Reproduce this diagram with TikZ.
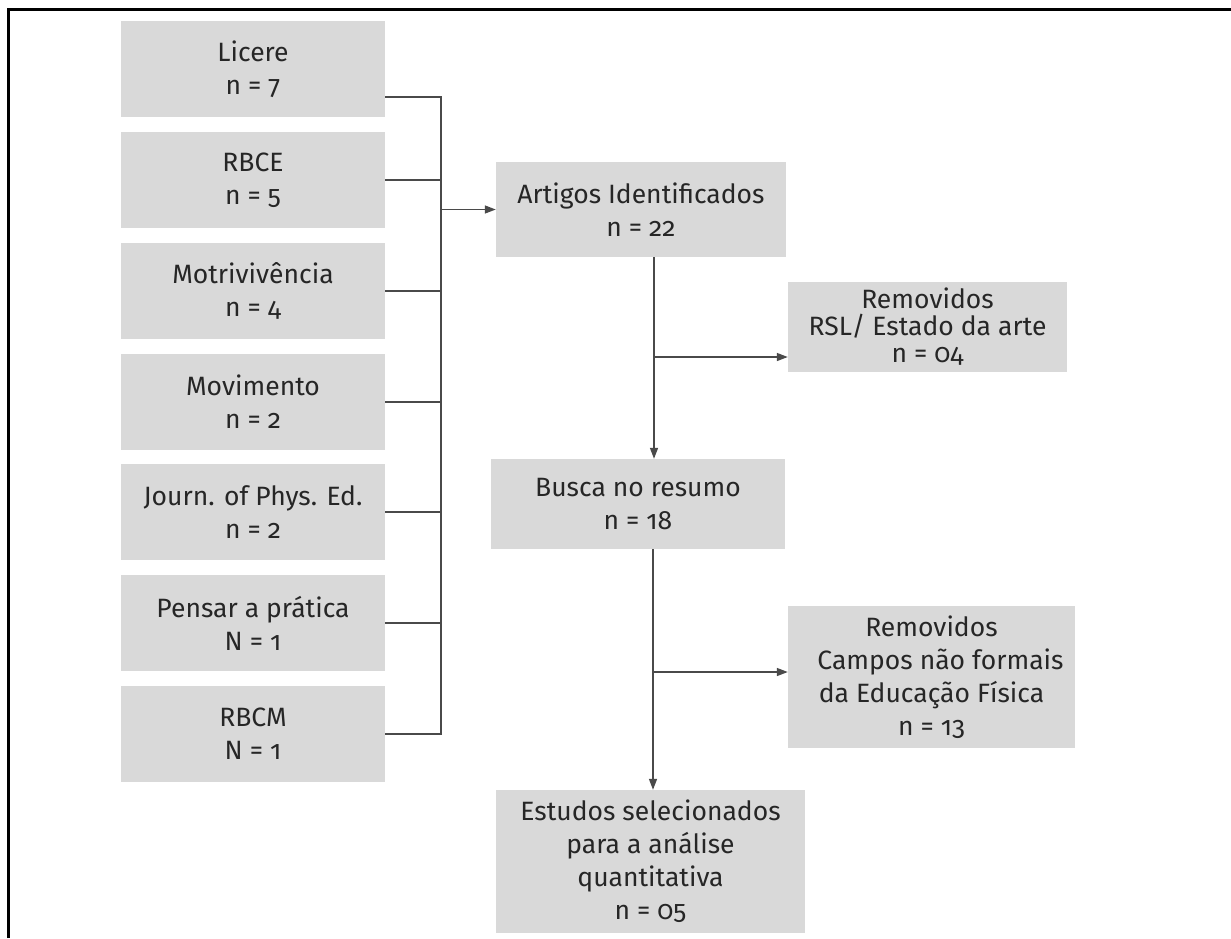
\documentclass[tikz,border=0pt]{standalone}
\usepackage{fontspec}
\setmainfont[Numbers=OldStyle]{Fira Sans}
\usetikzlibrary{arrows.meta}
\definecolor{boxgray}{HTML}{D9D9D9}
\definecolor{linegray}{HTML}{4A4A4A}
\definecolor{textgray}{HTML}{262626}
\tikzset{
  box/.style={fill=boxgray, draw=none, inner sep=0pt, align=center,
    text=textgray, font=\fontsize{26.5}{33}\selectfont},
  conn/.style={draw=linegray, line width=1.4pt},
  arr/.style={conn, -{Triangle[length=11pt,width=8pt]}}
}
\begin{document}
\begin{tikzpicture}[x=1pt,y=-1pt]
\useasboundingbox (0,0) rectangle (1231,938);
\draw[line width=3pt] (8.5,938) -- (8.5,9.5) -- (1231,9.5);
% left column
\node[box, minimum width=264pt, minimum height=96pt] (l1) at (253,69) {Licere\\n = 7};
\node[box, minimum width=264pt, minimum height=96pt] (l2) at (253,180) {RBCE\\n = 5};
\node[box, minimum width=264pt, minimum height=96pt] (l3) at (253,291) {Motrivivência\\n = 4};
\node[box, minimum width=264pt, minimum height=96pt] (l4) at (253,402) {Movimento\\n = 2};
\node[box, minimum width=264pt, minimum height=96pt] (l5) at (253,512) {Journ. of Phys. Ed.\\n = 2};
\node[box, minimum width=264pt, minimum height=96pt] (l6) at (253,623) {Pensar a prática\\N = 1};
\node[box, minimum width=264pt, minimum height=96pt] (l7) at (253,734) {RBCM\\N = 1};
% middle column
\node[box, minimum width=290pt, minimum height=95pt] (art) at (641,209.5) {Artigos Identificados\\n = 22};
\node[box, minimum width=294pt, minimum height=90pt] (bus) at (638,504) {Busca no resumo\\n = 18};
\node[box, minimum width=309pt, minimum height=143pt] (est) at (650.5,861.5) {Estudos selecionados\\para a análise\\quantitativa\\n = 05};
% right column
\node[box, minimum width=279pt, minimum height=90pt, font=\fontsize{26.5}{27}\selectfont] (rem1) at (927.5,327) {Removidos\\RSL/ Estado da arte\\n = 04};
\node[box, minimum width=287pt, minimum height=142pt] (rem2) at (931.5,677) {Removidos\\\hspace*{18pt}Campos não formais\\da Educação Física\\n = 13};
% bus
\coordinate (busx) at (441,0);
\coordinate (v1) at (654,0);
\coordinate (v2) at (653,0);
\draw[conn] ([yshift=-28pt]l1.east) -- ([yshift=-28pt]l1.east -| busx) -- (l7.east -| busx) -- (l7.east);
\foreach \n in {l2,l3,l4,l5,l6} \draw[conn] (\n.east) -- (\n.east -| busx);
\draw[arr] (art.west -| busx) -- (art.west);
% flow
\draw[arr] (art.south -| v1) -- (bus.north -| v1);
\draw[arr] ([yshift=-30pt]rem1.west -| v1) -- ([yshift=-30pt]rem1.west);
\draw[arr] (bus.south -| v2) -- (est.north -| v2);
\draw[arr] ([yshift=5pt]rem2.west -| v2) -- ([yshift=5pt]rem2.west);
\end{tikzpicture}
\end{document}
